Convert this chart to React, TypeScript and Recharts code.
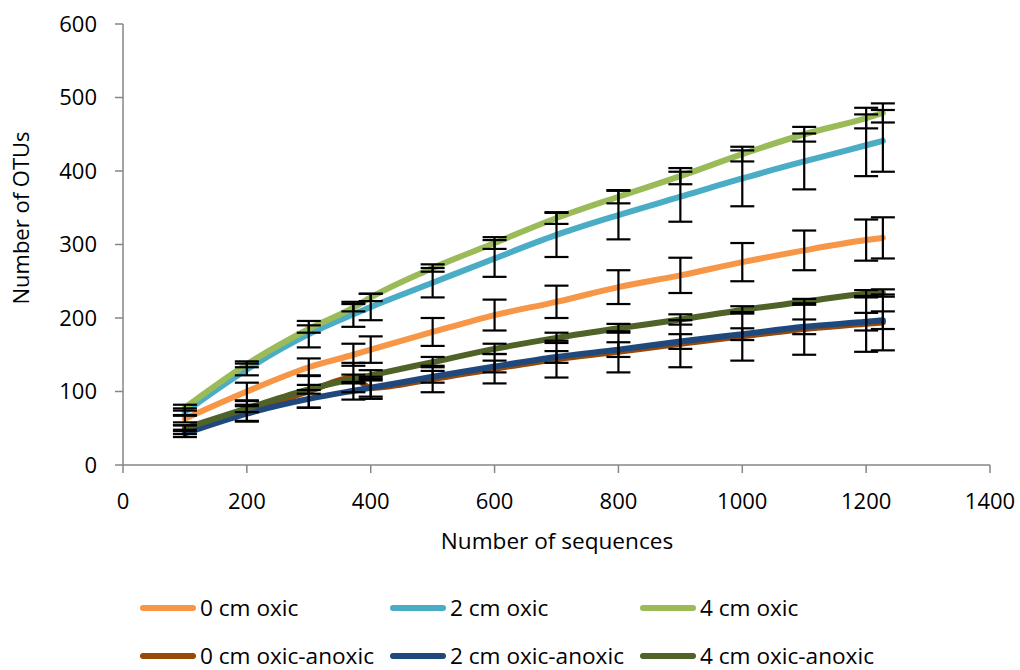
import React from 'react';
import { LineChart, Line, XAxis, YAxis, ErrorBar, Legend } from 'recharts';

const xs = [100, 200, 300, 372, 400, 500, 600, 700, 800, 900, 1000, 1100, 1200, 1227];

const oxic0 = [63, 100, 133, 150, 157, 181, 204, 222, 242, 258, 276, 292, 306, 309];
const oxic0Err = [5, 12, 12, 15, 18, 19, 21, 22, 23, 24, 26, 27, 28, 28];
const oxic2 = [72, 130, 178, 205, 215, 248, 281, 313, 340, 365, 390, 413, 435, 441];
const oxic2Err = [5, 8, 18, 17, 18, 20, 25, 30, 33, 34, 38, 38, 42, 42];
const oxic4 = [78, 137, 185, 214, 228, 268, 302, 336, 365, 393, 423, 450, 472, 479];
const oxic4Err = [4, 4, 5, 5, 5, 5, 8, 8, 9, 11, 10, 10, 14, 13];
const anox0 = [48, 73, 100, 119, 105, 117, 131, 144, 154, 165, 175, 185, 192, 194];
const anox0Err = [6, 14, 22, 20, 15, 18, 20, 25, 28, 32, 33, 35, 38, 38];
const anox2 = [43, 70, 90, 101, 105, 120, 134, 147, 157, 168, 178, 188, 195, 197];
const anox2Err = [5, 10, 12, 12, 12, 8, 8, 8, 10, 10, 8, 10, 12, 12];
const anox4 = [50, 77, 103, 117, 122, 140, 158, 173, 186, 198, 211, 222, 233, 234];
const anox4Err = [4, 5, 6, 6, 7, 7, 7, 7, 6, 7, 5, 4, 5, 5];

const xTicks = [0, 200, 400, 600, 800, 1000, 1200, 1400];
const yTicks = [0, 100, 200, 300, 400, 500, 600];

const seriesNames = ['0 cm oxic', '2 cm oxic', '4 cm oxic', '0 cm oxic-anoxic', '2 cm oxic-anoxic', '4 cm oxic-anoxic'];
const seriesColors = ['#F79646', '#4BACC6', '#9BBB59', '#984807', '#1F497D', '#4F6228'];
const seriesValues = [oxic0, oxic2, oxic4, anox0, anox2, anox4];
const seriesErrors = [oxic0Err, oxic2Err, oxic4Err, anox0Err, anox2Err, anox4Err];

const build = (vals: number[], errs: number[]) => xs.map((x, i) => ({ x, y: vals[i], e: errs[i] }));

const FONT = '"Open Sans", sans-serif';

const renderLegend = () => {
  const colX = [140, 390, 640];
  const rowY = [608, 656];
  return (
    <div style={{ position: 'relative', width: 0, height: 0 }}>
      {seriesNames.map((name, i) => {
        const col = i % 3;
        const row = Math.floor(i / 3);
        return (
          <div
            key={name}
            style={{
              position: 'absolute',
              left: colX[col],
              top: rowY[row] - 12,
              height: 24,
              lineHeight: '24px',
              display: 'flex',
              alignItems: 'center',
              whiteSpace: 'nowrap',
              fontFamily: FONT,
              fontSize: 22.6,
              color: '#000',
            }}
          >
            <span
              style={{
                display: 'inline-block',
                width: 56,
                height: 6,
                borderRadius: 3,
                background: seriesColors[i],
                marginRight: 4,
              }}
            />
            <span style={{ lineHeight: '24px' }}>{name}</span>
          </div>
        );
      })}
    </div>
  );
};

export default function App() {
  return (
    <div style={{ position: 'absolute', left: 0, top: 0, background: '#fff' }}>
      <LineChart width={1020} height={670} margin={{ top: 24, right: 30, bottom: 175, left: 0 }}>
        <XAxis
          type="number"
          dataKey="x"
          domain={[0, 1400]}
          ticks={xTicks}
          interval={0}
          height={30}
          stroke="#868686"
          strokeWidth={1.5}
          tickSize={8}
          tickMargin={20}
          tick={{ fill: '#000', fontSize: 22, fontFamily: FONT }}
          allowDuplicatedCategory={false}
          label={{
            content: () => (
              <text x={557} y={540} textAnchor="middle" dominantBaseline="central" fontFamily={FONT} fontSize={22.6} fill="#000">
                Number of sequences
              </text>
            ),
          }}
        />
        <YAxis
          type="number"
          domain={[0, 600]}
          ticks={yTicks}
          interval={0}
          width={123}
          stroke="#868686"
          strokeWidth={1.5}
          tickSize={8}
          tickMargin={18}
          tick={{ fill: '#000', fontSize: 22, fontFamily: FONT }}
          label={{
            content: () => (
              <text
                x={20}
                y={218}
                transform="rotate(-90 20 218)"
                textAnchor="middle"
                dominantBaseline="central"
                fontFamily={FONT}
                fontSize={22}
                fill="#000"
              >
                Number of OTUs
              </text>
            ),
          }}
        />
        <Legend content={renderLegend} wrapperStyle={{ position: 'absolute', left: 0, top: 0, width: 0, height: 0 }} />
        {seriesNames.map((name, i) => (
          <Line
            key={name}
            name={name}
            data={build(seriesValues[i], seriesErrors[i])}
            dataKey="y"
            type="monotone"
            stroke={seriesColors[i]}
            strokeWidth={6}
            strokeLinecap="round"
            dot={false}
            activeDot={false}
            isAnimationActive={false}
          />
        ))}
        {seriesNames.map((name, i) => (
          <Line
            key={name + '-err'}
            name={name + ' error'}
            legendType="none"
            data={build(seriesValues[i], seriesErrors[i])}
            dataKey="y"
            type="monotone"
            stroke="none"
            dot={false}
            activeDot={false}
            isAnimationActive={false}
          >
            <ErrorBar dataKey="e" direction="y" width={12} stroke="#000" strokeWidth={2.2} isAnimationActive={false} />
          </Line>
        ))}
      </LineChart>
    </div>
  );
}
